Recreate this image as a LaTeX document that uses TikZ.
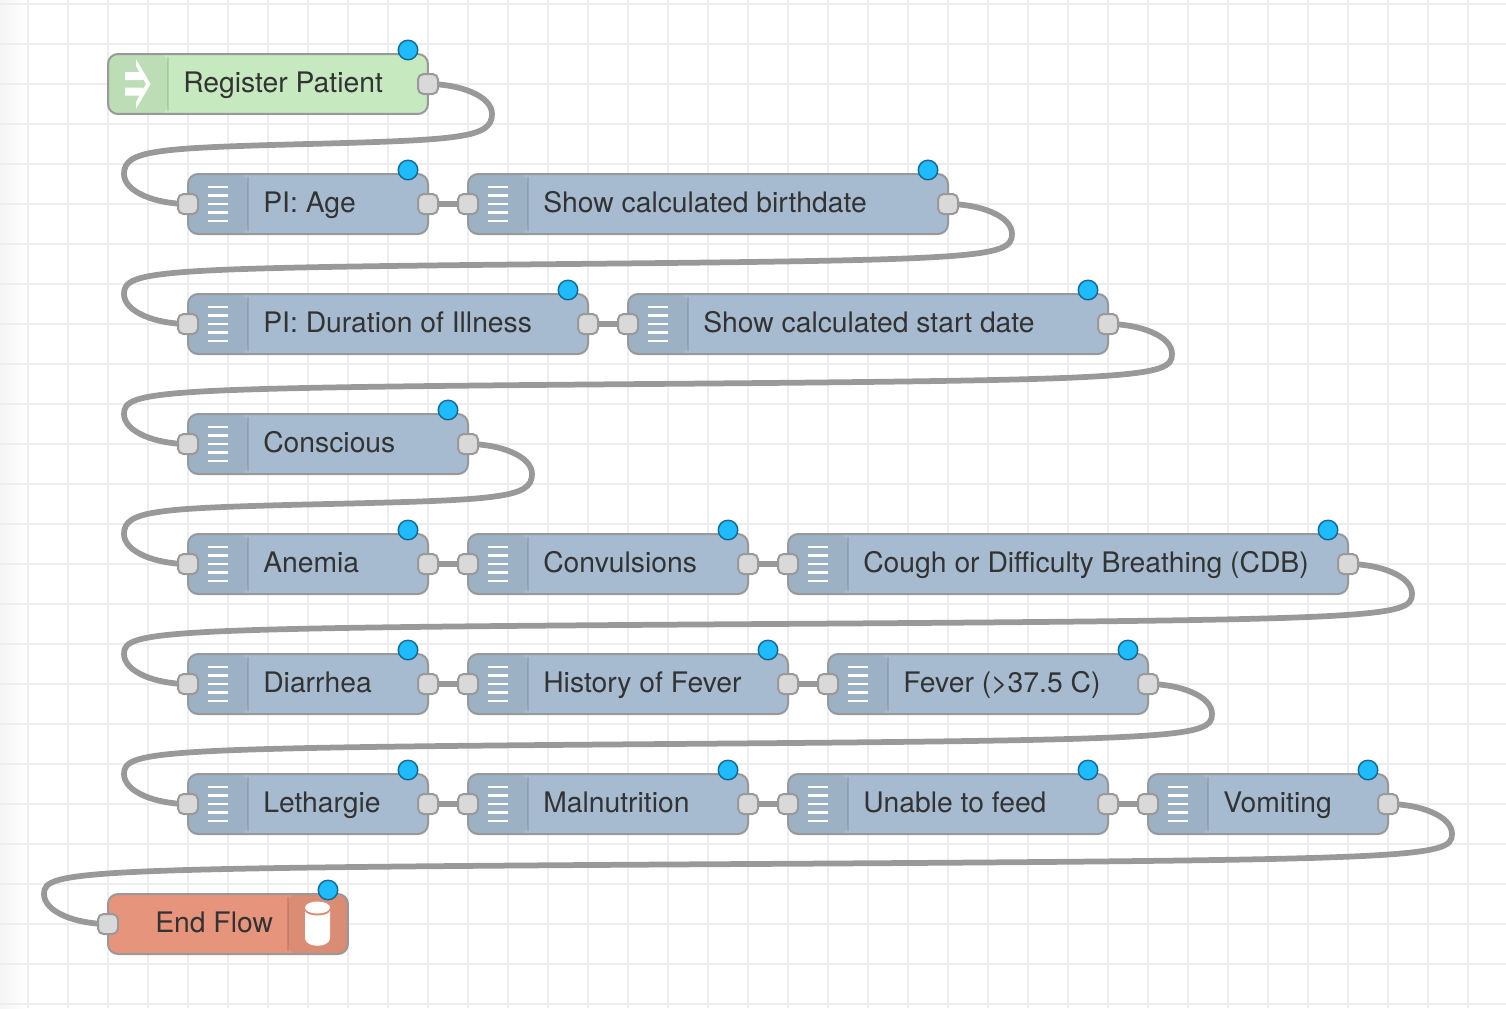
\documentclass[tikz,border=0pt]{standalone}
\usepackage{fontspec}
\setmainfont{TeX Gyre Heros}
\usetikzlibrary{calc,backgrounds}
\definecolor{gridgray}{HTML}{EEEEEE}
\definecolor{wiregray}{HTML}{999999}
\definecolor{portgray}{HTML}{D9D9D9}
\definecolor{askblue}{HTML}{A6BBCF}
\definecolor{startgreen}{HTML}{C7E9C0}
\definecolor{endred}{HTML}{E6947C}
\definecolor{dotblue}{HTML}{1FBBFF}
\definecolor{dotedge}{HTML}{146C94}
\definecolor{labelgray}{HTML}{333333}
% wire that runs back to the next row
\newcommand{\backwire}[2]{%
  \draw[wire] (#1.center) .. controls ($(#1.center)+(32,0)$) and ($(#1.center)+(64,12)$) .. ($(#1.center)+(64,30)$)
    .. controls ($(#1.center)+(64,54)$) and ($(#1.center)+(32,56)$) .. ($(#1.center)!.5!(#2.center)$)
    .. controls ($(#2.center)+(-32,-56)$) and ($(#2.center)+(-64,-54)$) .. ($(#2.center)+(-64,-30)$)
    .. controls ($(#2.center)+(-64,-12)$) and ($(#2.center)+(-32,0)$) .. (#2.center);}
\begin{document}
\begin{tikzpicture}[x=0.02cm, y=-0.02cm,
    flow/.style={draw=wiregray, line width=0.04cm, rounded corners=0.2cm, minimum height=1.2cm, inner sep=0pt, outer sep=0pt, anchor=west},
    stripleft/.style={path picture={
      \fill[black,opacity=0.05] (path picture bounding box.north west) rectangle ([xshift=1.2cm]path picture bounding box.south west);
      \draw[black,opacity=0.1,line width=0.04cm] ([shift={(1.2cm,-0.06cm)}]path picture bounding box.north west) -- ([shift={(1.2cm,0.06cm)}]path picture bounding box.south west);}},
    stripright/.style={path picture={
      \fill[black,opacity=0.05] (path picture bounding box.north east) rectangle ([xshift=-1.2cm]path picture bounding box.south east);
      \draw[black,opacity=0.1,line width=0.04cm] ([shift={(-1.2cm,-0.06cm)}]path picture bounding box.north east) -- ([shift={(-1.2cm,0.06cm)}]path picture bounding box.south east);}},
    port/.style={draw=wiregray, fill=portgray, line width=0.04cm, rounded corners=0.11cm, minimum size=0.4cm, inner sep=0pt, outer sep=0pt},
    dot/.style={circle, draw=dotedge, fill=dotblue, line width=0.03cm, minimum size=0.39cm, inner sep=0pt, outer sep=0pt},
    lab/.style={anchor=base west, inner sep=0pt, outer sep=0pt, text=labelgray, font=\fontsize{16.1}{19}\selectfont},
    wire/.style={draw=wiregray, line width=0.115cm},
    gridline/.style={draw=gridgray, line width=0.04cm},
    iconbar/.style={draw=white, line width=0.055cm}]
  \useasboundingbox (0,0) rectangle (1506,1008);
  % Canvas
  \begin{scope}[on background layer]
    \shade[left color=black!4, right color=white] (0,0) rectangle (28,1008);
    \foreach \x in {28,68,...,1468} {
      \draw[gridline] (\x,0) -- (\x,1008);
    }
    \foreach \y in {4,44,...,1004} {
      \draw[gridline] (0,\y) -- (1506,\y);
    }
  \end{scope}
  % Start node
  \node[flow, stripleft, fill=startgreen, minimum width=6.4cm] (register) at (108,84) {};
  \node[port] (register-out) at (428,84) {};
  \node[dot] (register-dot) at (408,50) {};
  \node[lab] (register-lab) at (183.3,92) {Register Patient};
  \fill[white] (125,72) rectangle (143,80) (125,87.5) rectangle (143,95.5);
  \fill[white] (136,59) -- (150.5,84) -- (136,109) -- (136,102) -- (146,84) -- (136,66) -- cycle;
  % Question nodes
  \foreach \name/\x/\y/\wid/\txt in {age/188/204/240/{PI: Age},
      birthdate/468/204/480/{Show calculated birthdate},
      duration/188/324/400/{PI: Duration of Illness},
      startdate/628/324/480/{Show calculated start date},
      conscious/188/444/280/{Conscious},
      anemia/188/564/240/{Anemia},
      convulsions/468/564/280/{Convulsions},
      cdb/788/564/560/{Cough or Difficulty Breathing (CDB)},
      diarrhea/188/684/240/{Diarrhea},
      history/468/684/320/{History of Fever},
      fever/828/684/320/{Fever (>37.5 C)},
      lethargie/188/804/240/{Lethargie},
      malnutrition/468/804/280/{Malnutrition},
      feed/788/804/320/{Unable to feed},
      vomiting/1148/804/240/{Vomiting}} {
    \node[flow, stripleft, fill=askblue, minimum width=\wid*0.02cm] (\name) at (\x,\y) {};
    \node[port] (\name-in) at (\x,\y) {};
    \node[port] (\name-out) at (\x+\wid,\y) {};
    \node[dot] (\name-dot) at (\x+\wid-20,\y-34) {};
    \node[lab] (\name-lab) at (\x+75.3,\y+8) {\txt};
    \foreach \k in {-2,...,2} {
      \draw[iconbar] (\x+20,\y+8.5*\k) -- (\x+40,\y+8.5*\k);
    }
  }
  % End node
  \node[flow, stripright, fill=endred, minimum width=4.8cm] (endflow) at (108,924) {};
  \node[port] (endflow-in) at (108,924) {};
  \node[dot] (endflow-dot) at (328,890) {};
  \node[lab] (endflow-lab) at (155.3,932) {End Flow};
  \fill[white] (317.5,907.5) ellipse [x radius=12.5, y radius=6];
  \fill[white] (305,911) .. controls (307,917) and (328,917) .. (330,911) -- (330,939) .. controls (328,948) and (307,948) .. (305,939) -- cycle;
  % Wires
  \begin{scope}[on background layer]
    \backwire{register-out}{age-in}
    \backwire{birthdate-out}{duration-in}
    \backwire{startdate-out}{conscious-in}
    \backwire{conscious-out}{anemia-in}
    \backwire{cdb-out}{diarrhea-in}
    \backwire{fever-out}{lethargie-in}
    \backwire{vomiting-out}{endflow-in}
    \foreach \src/\dest in {age/birthdate, duration/startdate, anemia/convulsions, convulsions/cdb,
        diarrhea/history, history/fever, lethargie/malnutrition, malnutrition/feed, feed/vomiting} {
      \draw[wire] (\src-out.center) -- (\dest-in.center);
    }
  \end{scope}
\end{tikzpicture}
\end{document}
